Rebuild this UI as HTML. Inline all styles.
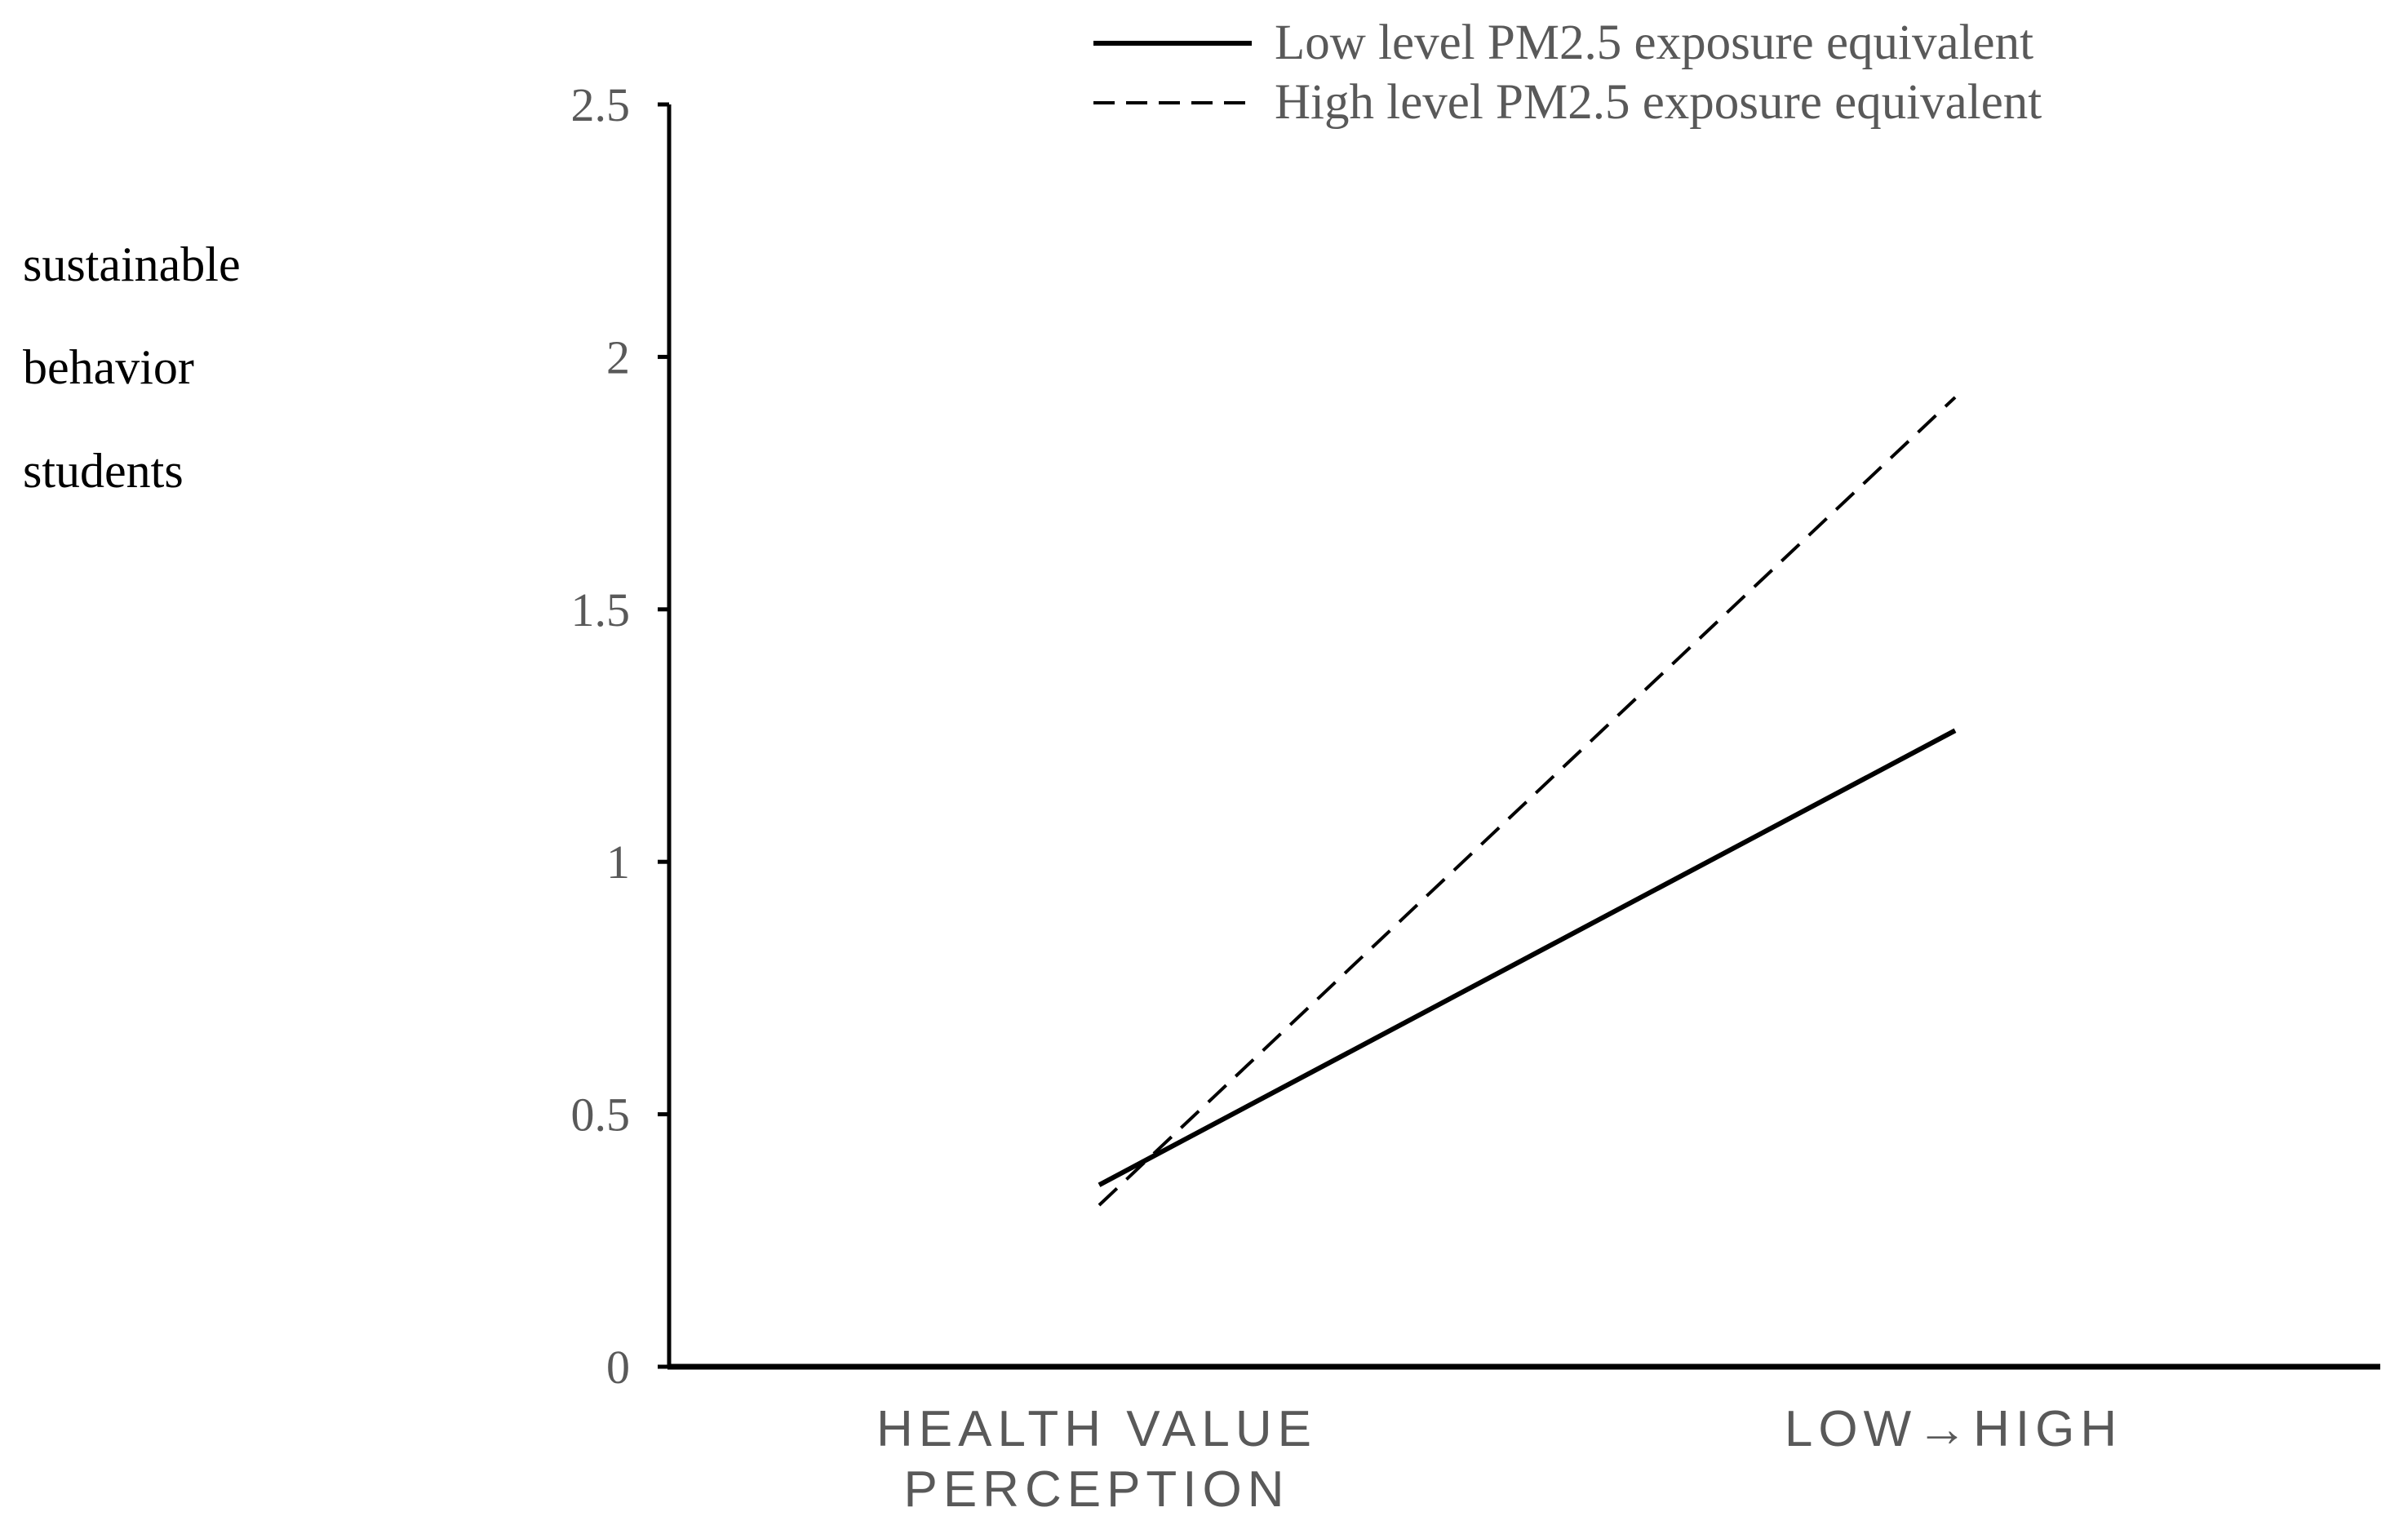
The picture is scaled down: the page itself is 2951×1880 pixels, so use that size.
<!DOCTYPE html>
<html><head><meta charset="utf-8"><style>
html,body{margin:0;padding:0;background:#fff;}
svg{display:block;}
</style></head><body>
<svg width="2951" height="1880" viewBox="0 0 2951 1880" xmlns="http://www.w3.org/2000/svg">
<g id="chart"></g>
</svg>
<script>
const categories = ["HEALTH VALUE PERCEPTION", "LOW→HIGH"];
const lowSeries = [0.36, 1.26];
const highSeries = [0.32, 1.92];
const yTicks = [0, 0.5, 1, 1.5, 2, 2.5];
const yTickLabels = ["0", "0.5", "1", "1.5", "2", "2.5"];

const NS = "http://www.w3.org/2000/svg";
const g = document.getElementById('chart');
const X0 = 820, X1 = 2917, Y0 = 1675, Ytop = 128;
function y(v){ return Y0 - v / 2.5 * (Y0 - Ytop); }
function x(i){ return [1347, 2396][i]; }
function mk(tag, attrs, text){
  const e = document.createElementNS(NS, tag);
  for (const k in attrs) e.setAttribute(k, attrs[k]);
  if (text !== undefined) e.textContent = text;
  g.appendChild(e); return e;
}
let e;
e = mk('line', {x1:X0, y1:Ytop, x2:X0, y2:Y0, stroke:'#000', 'stroke-width':5});


e = mk('line', {x1:X0-2, y1:Y0, x2:X1, y2:Y0, stroke:'#000', 'stroke-width':7});


yTicks.forEach((t, i) => {
  let tk = mk('line', {x1:X0-14, y1:y(t), x2:X0, y2:y(t), stroke:'#000', 'stroke-width':5});
  
  
  let lb = mk('text', {x:772, y:y(t)+20, 'text-anchor':'end', 'font-family':'Liberation Serif, serif', 'font-size':58, fill:'#595959'}, yTickLabels[i]);
  
  
});
e = mk('line', {x1:x(0), y1:y(lowSeries[0]), x2:x(1), y2:y(lowSeries[1]), stroke:'#000', 'stroke-width':6});


e = mk('line', {x1:x(0), y1:y(highSeries[0]), x2:x(1), y2:y(highSeries[1]), stroke:'#000', 'stroke-width':4, 'stroke-dasharray':'30 16'});



// legend
e = mk('line', {x1:1340, y1:53, x2:1534, y2:53, stroke:'#000', 'stroke-width':6});


e = mk('text', {x:1562, y:72, 'font-family':'Liberation Serif, serif', 'font-size':61, fill:'#595959'}, 'Low level PM2.5 exposure equivalent');


e = mk('line', {x1:1340, y1:126, x2:1534, y2:126, stroke:'#000', 'stroke-width':4, 'stroke-dasharray':'26 14'});


e = mk('text', {x:1562, y:145, 'font-family':'Liberation Serif, serif', 'font-size':61, fill:'#595959'}, 'High level PM2.5 exposure equivalent');



// y-axis title words
[['sustainable',344],['behavior',470],['students',597]].forEach(([w, yy]) => {
  let t = mk('text', {x:28, y:yy, 'font-family':'Liberation Serif, serif', 'font-size':60, fill:'#000'}, w);
  
  
});

// x labels
const xs = {'font-family':'Liberation Sans, sans-serif', 'font-size':62, fill:'#595959', 'letter-spacing':7, 'text-anchor':'middle'};
e = mk('text', Object.assign({x:1344, y:1772}, xs), 'HEALTH VALUE');


e = mk('text', Object.assign({x:1344, y:1846}, xs), 'PERCEPTION');


e = mk('text', Object.assign({x:2394, y:1772}, xs), categories[1]);


</script>
</body></html>
